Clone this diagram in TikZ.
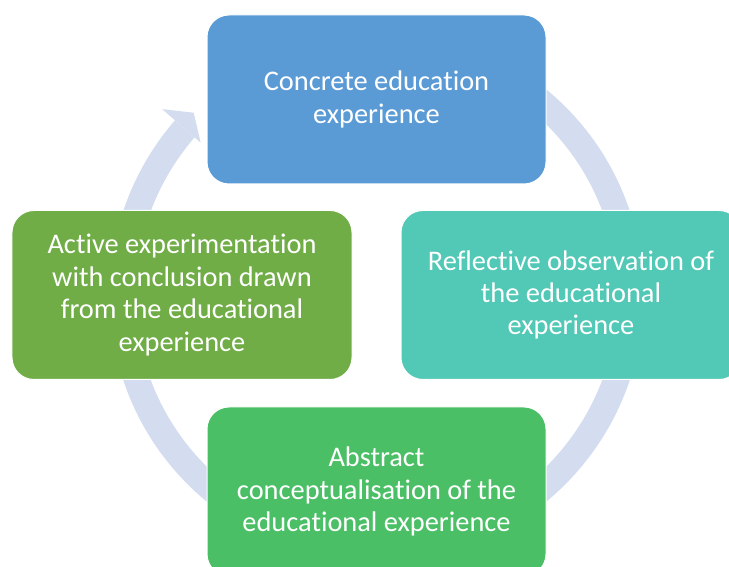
\documentclass[tikz,border=0pt]{standalone}
\usepackage{fontspec}
\setmainfont{Carlito}[RawFeature={-liga;-clig;-calt}]
\definecolor{ringblue}{HTML}{D3DDEF}
\definecolor{concreteblue}{HTML}{5B9BD5}
\definecolor{reflectteal}{HTML}{52C8B6}
\definecolor{abstractgreen}{HTML}{4BBF66}
\definecolor{activegreen}{HTML}{70AD47}
\tikzset{
  stage/.style={draw=white, line width=1bp, rounded corners=22bp,
    minimum width=339bp, minimum height=169bp, align=center,
    text=white, font=\fontsize{28.5}{32.5}\selectfont},
  ring/.style={draw=ringblue, line width=26bp}
}
\begin{document}
\begin{tikzpicture}[x=1bp,y=1bp]
    \useasboundingbox (0,0) rectangle (729,567);
    \clip (0,0) rectangle (729,567);

    % Draw the ring behind the boxes
    \coordinate (hub) at (376.5,271.5);
    \draw[ring] ([shift={(hub)}]100:254) arc[start angle=100, end angle=-221, radius=254];
    % Draw the arrow head at the end of the ring
    \fill[ringblue] ([shift={(hub)}]139:284) -- ([shift={(hub)}]135:258.5) -- ([shift={(hub)}]139:233) -- cycle;

    % Draw the four boxes
    \node[stage, fill=concreteblue] (concrete) at (376.5,467.5) {Concrete education\\experience};
    \node[stage, fill=reflectteal, minimum width=340bp] (reflective) at (571,272) {Reflective observation of\\the educational\\experience};
    \node[stage, fill=abstractgreen] (abstract) at (376.5,75.5) {Abstract\\conceptualisation of the\\educational experience};
    \node[stage, fill=activegreen, minimum width=340bp] (active) at (182,272) {Active experimentation\\with conclusion drawn\\from the educational\\experience};

\end{tikzpicture}
\end{document}
